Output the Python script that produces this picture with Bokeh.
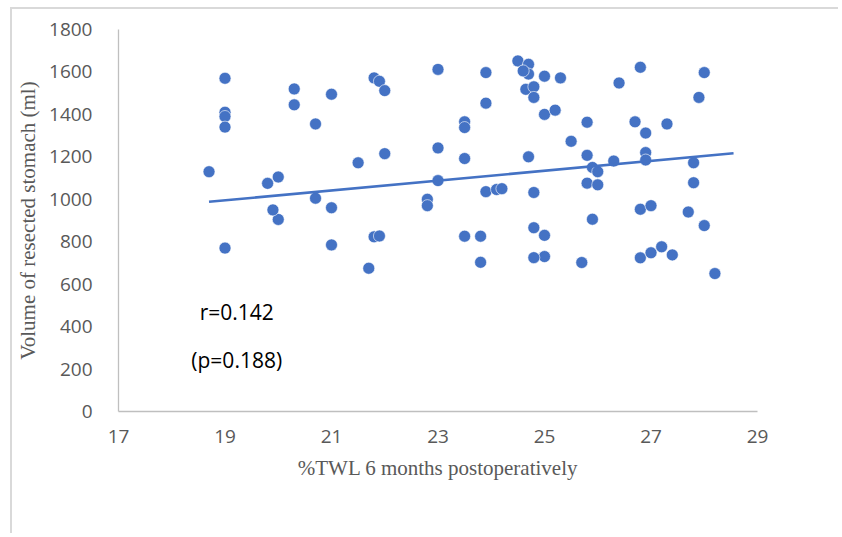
from bokeh.plotting import figure
from bokeh.models import Range1d, Label, FixedTicker, ColumnDataSource
from bokeh.embed import file_html
from bokeh.resources import INLINE

# %TWL 6 months postoperatively
twl = [19.0, 19.0, 19.0, 19.0, 19.0, 18.7, 20.3, 20.3, 19.8, 20.0, 20.0, 19.9,
       20.7, 20.7, 21.0, 21.0, 21.0, 21.5, 21.7, 21.8, 21.8, 21.9, 21.9, 22.0, 22.0,
       22.8, 22.8, 23.0, 23.0, 23.0, 23.5, 23.5, 23.5, 23.5, 23.8, 23.8,
       23.9, 23.9, 23.9, 24.1, 24.2, 24.5, 24.7, 24.7, 24.7, 24.6,
       25.0, 25.0, 25.0, 25.0, 25.3, 24.65, 24.8, 24.8, 24.8, 24.8, 24.8, 25.2,
       25.5, 25.7,
       25.8, 25.8, 25.8, 25.9, 25.9, 26.0, 26.0, 26.3, 26.4, 26.8, 26.8, 26.8,
       26.7, 26.9, 26.9, 26.9, 27.0, 27.0, 27.2, 27.4, 27.3, 27.7, 27.8, 27.8,
       27.9, 28.0, 28.0, 28.2]
# Volume of resected stomach (ml)
volume = [1570, 1410, 1390, 1340, 770, 1130, 1520, 1445, 1075, 1105, 905, 950,
          1355, 1005, 1495, 960, 785, 1172, 675, 1572, 823, 1556, 827, 1512, 1215,
          1000, 970, 1612, 1242, 1088, 1365, 1338, 1192, 826, 826, 703,
          1597, 1453, 1036, 1046, 1050, 1652, 1636, 1590, 1200, 1605,
          1580, 1400, 830, 730, 1572, 1518, 1530, 1480, 1032, 866, 725, 1420,
          1273, 702,
          1363, 1207, 1076, 1150, 906, 1130, 1068, 1180, 1548, 1622, 953, 724,
          1365, 1312, 1220, 1185, 970, 748, 776, 738, 1355, 940, 1172, 1078,
          1480, 1597, 876, 650]

# linear trendline as drawn in the chart (end points)
trend_x = [18.7, 28.55]
trend_y = [988, 1217]

x_ticks = [17, 19, 21, 23, 25, 27, 29]
y_ticks = [0, 200, 400, 600, 800, 1000, 1200, 1400, 1600, 1800]

BLUE = "#4472C4"
GRAY = "#595959"

p = figure(width=828, height=526, output_backend="svg", toolbar_location=None,
           x_range=Range1d(17, 29), y_range=Range1d(0, 1800),
           min_border_left=106, min_border_right=83, min_border_top=20, min_border_bottom=124,
           background_fill_color="white", border_fill_color="white")
p.outline_line_color = None
p.xgrid.grid_line_color = None
p.ygrid.grid_line_color = None

for ax in (p.xaxis[0], p.yaxis[0]):
    ax.axis_line_color = "#bfbfbf"
    ax.axis_line_width = 1.3
    ax.major_tick_line_color = None
    ax.minor_tick_line_color = None
    ax.major_label_text_font = "Open Sans"
    ax.major_label_text_font_size = "19px"
    ax.major_label_text_color = GRAY
    ax.axis_label_text_font = "Liberation Serif"
    ax.axis_label_text_font_style = "normal"
    ax.axis_label_text_font_size = "21px"
    ax.axis_label_text_color = GRAY

p.xaxis.ticker = FixedTicker(ticks=x_ticks)
p.yaxis.ticker = FixedTicker(ticks=y_ticks)
p.xaxis.major_label_standoff = 12
p.yaxis.major_label_standoff = 20
p.xaxis.axis_label = "%TWL 6 months postoperatively"
p.yaxis.axis_label = "Volume of resected stomach (ml)"
p.xaxis.axis_label_standoff = 10
p.yaxis.axis_label_standoff = 6

src = ColumnDataSource(dict(x=twl, y=volume))
p.scatter("x", "y", source=src, size=12, color=BLUE, line_color="white", line_width=0.6)

p.line(trend_x, trend_y, color=BLUE, line_width=2.6)

p.add_layout(Label(x=19.22, y=471, text="r=0.142", text_align="center", text_baseline="middle",
                   text_font="Open Sans", text_font_size="21px", text_color="black"))
p.add_layout(Label(x=19.22, y=245, text="(p=0.188)", text_align="center", text_baseline="middle",
                   text_font="Open Sans", text_font_size="21px", text_color="black"))

p.styles = {"border-top": "2px solid #d9d9d9", "border-left": "2px solid #d9d9d9",
            "margin-left": "10px", "margin-top": "7px"}

open("out.html", "w").write(file_html(p, INLINE))
